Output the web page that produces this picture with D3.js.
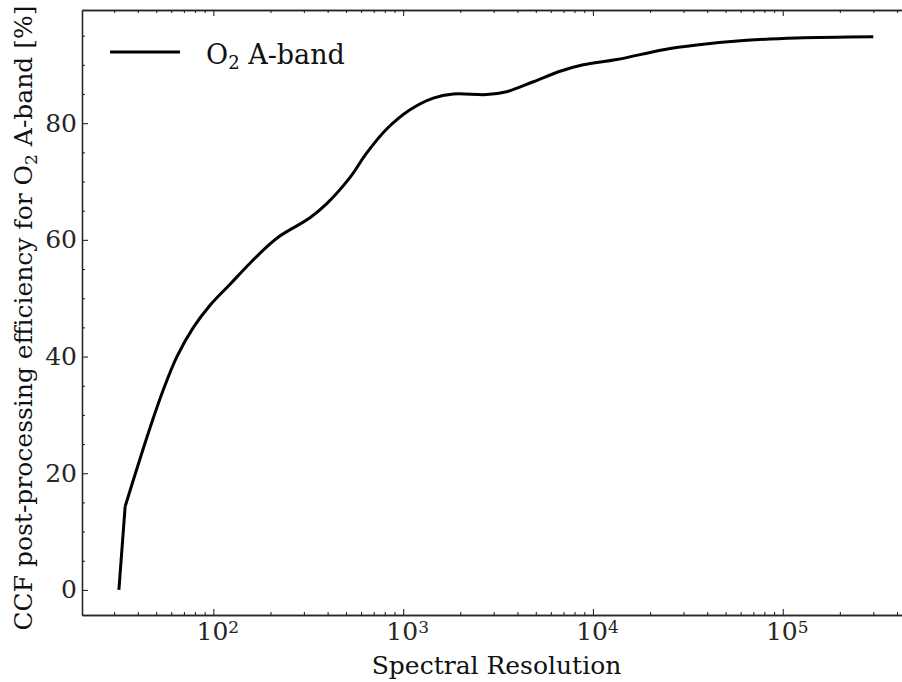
<!DOCTYPE html>
<meta charset="utf-8">
<style>
  body { margin: 0; background: #fff; }
</style>
<div id="chart"></div>
<script src="https://cdn.jsdelivr.net/npm/d3@7"></script>
<script>
// values
const resolution = [31.8, 34.3, 39.4, 46.4, 54.5, 64.1, 78.5, 96.1, 122.5, 156, 199, 225, 323, 396,
                    525, 643, 819, 1087, 1442, 1839, 2755, 3513, 4855, 6714, 8892,
                    13340, 23500, 35240, 64560, 118600, 300000];
const efficiency = [0, 14.3, 20.6, 27.8, 34.3, 39.9, 45.0, 48.8, 52.4, 56.0, 59.3, 60.7, 63.8, 66.2,
                    70.7, 74.9, 79.0, 82.3, 84.3, 85.0, 84.9, 85.4, 87.1, 88.9, 90.0,
                    90.9, 92.6, 93.4, 94.2, 94.6, 94.8];
const xMajor = [2, 3, 4, 5];          // exponents of 10
const yMajor = [0, 20, 40, 60, 80];
const seriesName = "A-band";

const width = 902, height = 682;
const margin = {top: 10, right: -10, bottom: 67, left: 82};
const fs = 25, fsSub = 17;
const serif = "DejaVu Serif";

const svg = d3.select("#chart").append("svg")
    .attr("width", width).attr("height", height)
    .style("display", "block");

let x = d3.scaleLog()
    .domain([Math.pow(10, 1.308), Math.pow(10, 5.681)])
    .range([margin.left, width - margin.right]);
let y = d3.scaleLinear()
    .domain([-4.3, 99.4])
    .range([height - margin.bottom, margin.top]);

let xMinor = [];
for (let e = 1; e <= 5; e++) for (let m = 2; m <= 9; m++) {
    let v = m * Math.pow(10, e);
    if (v > x.domain()[0] && v < x.domain()[1]) xMinor.push(v);
}
let yMinor = d3.range(5, 100, 5).filter(v => v % 20 != 0);
let xTicks = xMajor.map(e => Math.pow(10, e));

let ink = "#262626";
function spine(g, axis) {
    g.call(axis);
    g.attr("color", ink).attr("font-size", fs).attr("font-family", serif);
    g.select(".domain").attr("stroke-width", 1.3);
    g.selectAll(".tick line").attr("stroke-width", 1.1);
}
let yBot = height - margin.bottom, yTop = margin.top, xLeft = margin.left, xRight = width - margin.right;

// bottom
svg.append("g").attr("transform", `translate(0,${yBot})`)
    .call(g => spine(g, d3.axisBottom(x).tickValues(xTicks).tickSize(-6).tickSizeOuter(0).tickPadding(7).tickFormat("")))
    .call(g => g.selectAll(".tick text").each(function(d, i) {
        let t = d3.select(this).attr("fill", ink).attr("dy", "0.71em").attr("dx", 4);
        t.append("tspan").text("10");
        t.append("tspan").attr("dy", "-0.4em").attr("font-size", fsSub).text(xMajor[i]);
    }));
svg.append("g").attr("transform", `translate(0,${yBot})`)
    .call(g => spine(g, d3.axisBottom(x).tickValues(xMinor).tickSize(-3).tickSizeOuter(0).tickFormat("")));
// top
svg.append("g").attr("transform", `translate(0,${yTop})`)
    .call(g => spine(g, d3.axisTop(x).tickValues(xTicks).tickSize(-6).tickSizeOuter(0).tickFormat("")));
svg.append("g").attr("transform", `translate(0,${yTop})`)
    .call(g => spine(g, d3.axisTop(x).tickValues(xMinor).tickSize(-3).tickSizeOuter(0).tickFormat("")));
// left
svg.append("g").attr("transform", `translate(${xLeft},0)`)
    .call(g => spine(g, d3.axisLeft(y).tickValues(yMajor).tickSize(-6).tickSizeOuter(0).tickPadding(5)));
svg.append("g").attr("transform", `translate(${xLeft},0)`)
    .call(g => spine(g, d3.axisLeft(y).tickValues(yMinor).tickSize(-3).tickSizeOuter(0).tickFormat("")));
// right
svg.append("g").attr("transform", `translate(${xRight},0)`)
    .call(g => spine(g, d3.axisRight(y).tickValues(yMajor).tickSize(-6).tickSizeOuter(0).tickFormat("")));
svg.append("g").attr("transform", `translate(${xRight},0)`)
    .call(g => spine(g, d3.axisRight(y).tickValues(yMinor).tickSize(-3).tickSizeOuter(0).tickFormat("")));

// the curve: straight first step, smooth after the kink
let data = resolution.map((r, i) => [r, efficiency[i]]);
let lineFn = c => d3.line().x(d => x(d[0])).y(d => y(d[1])).curve(c);
let curveG = svg.append("g")
    .attr("fill", "none")
    .attr("stroke", "#000")
    .attr("stroke-width", 3)
    .attr("stroke-linejoin", "round");
curveG.append("path").attr("d", lineFn(d3.curveLinear)(data.slice(0, 2)));
curveG.append("path").attr("d", lineFn(d3.curveCatmullRom.alpha(0.5))(data.slice(1)));

// legend
svg.append("line")
    .attr("x1", 110).attr("x2", 180).attr("y1", 52).attr("y2", 52)
    .attr("stroke", "#000").attr("stroke-width", 3);
let lg = svg.append("text").attr("x", 206).attr("y", 64)
    .attr("font-family", serif).attr("font-size", 27).attr("fill", "#111");
lg.append("tspan").text("O");
lg.append("tspan").attr("dy", 5).attr("font-size", 18).text("2");
lg.append("tspan").attr("dy", -5).text(" " + seriesName);

// axis labels
svg.append("text")
    .attr("x", (xLeft + 911) / 2).attr("y", 674)
    .attr("text-anchor", "middle")
    .attr("font-family", serif).attr("font-size", fs).attr("fill", "#111")
    .text("Spectral Resolution");
let yl = svg.append("text")
    .attr("transform", "rotate(-90)")
    .attr("x", -318).attr("y", 32)
    .attr("text-anchor", "middle")
    .attr("font-family", serif).attr("font-size", fs).attr("fill", "#111");
yl.append("tspan").text("CCF post-processing efficiency for O");
yl.append("tspan").attr("dy", 5).attr("font-size", fsSub).text("2");
yl.append("tspan").attr("dy", -5).text(" " + seriesName + " [%]");
</script>
